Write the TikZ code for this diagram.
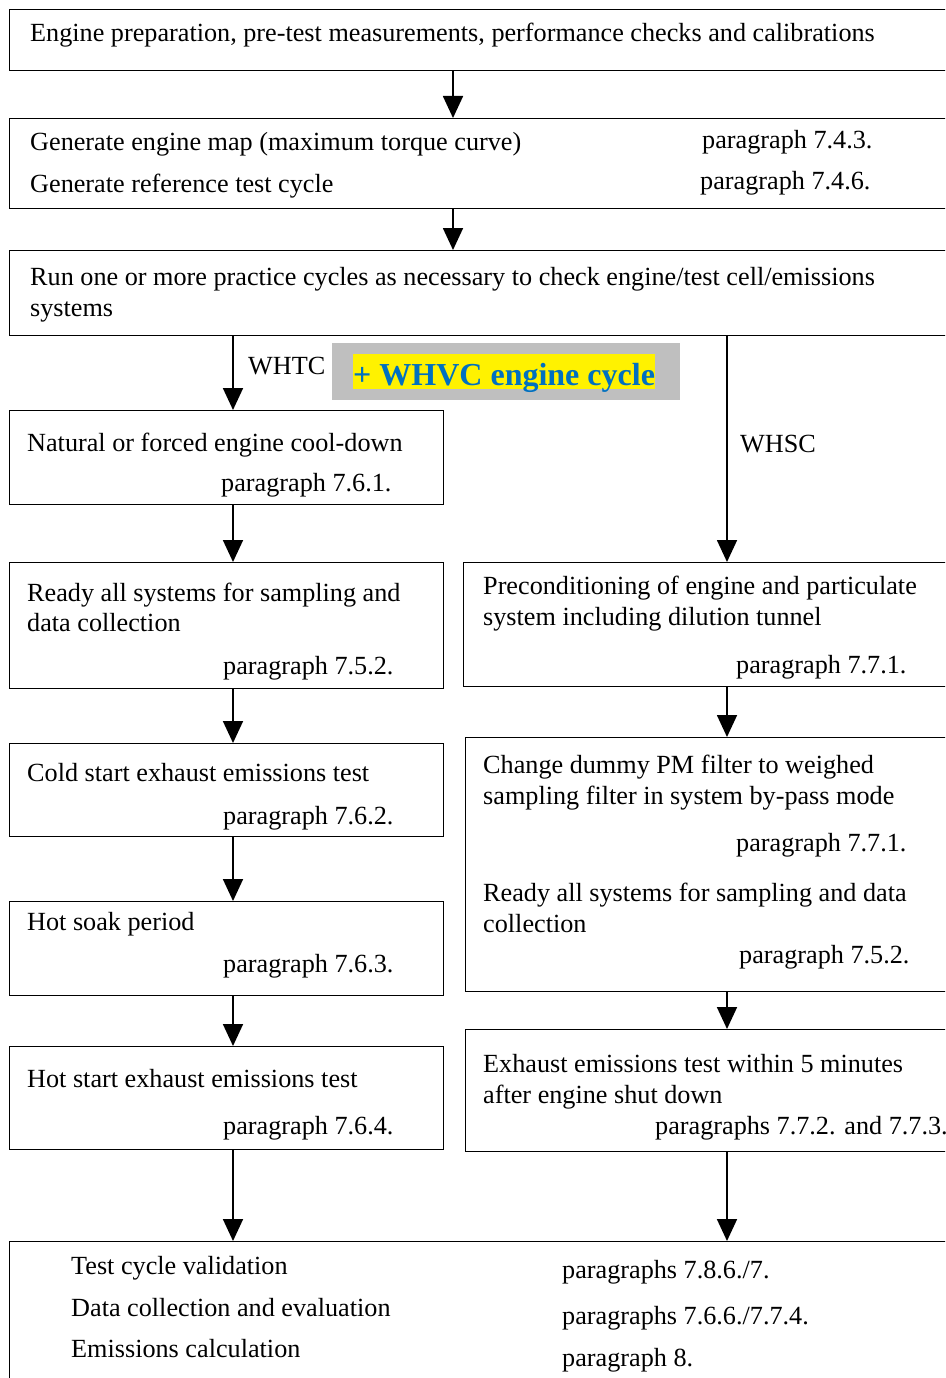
\documentclass[tikz,border=0pt]{standalone}
\usepackage{fontspec}
\setmainfont{Liberation Serif}
\usetikzlibrary{arrows.meta}
\definecolor{hlblue}{HTML}{0070C0}
\definecolor{hlgray}{HTML}{BFBFBF}
\begin{document}
\begin{tikzpicture}[x=1pt,y=-1pt,
  box/.style={draw,line width=1.3pt,rectangle,anchor=north west,inner sep=0pt},
  txt/.style={anchor=base west,inner sep=0pt,yshift=-1pt,font=\fontsize{26.2}{31}\selectfont},
  flow/.style={line width=1.8pt,-{Triangle[width=20pt,length=22pt]}},
  lbl/.style={anchor=base west,inner sep=0pt,font=\fontsize{26.2}{31}\selectfont}]
\useasboundingbox (0,0) rectangle (945,1378);
\clip (0,0) rectangle (945,1378);

% column positions of the connectors
\coordinate (cm) at (453,0);
\coordinate (cl) at (233,0);
\coordinate (cr) at (727,0);

% ---- boxes (the wide ones run past the right edge) ----
\node[box,minimum width=960pt,minimum height=61pt] (b1) at (9,9) {};
\node[box,minimum width=960pt,minimum height=90pt] (b2) at (9,118) {};
\node[box,minimum width=960pt,minimum height=85pt] (b3) at (9,250) {};
\node[box,minimum width=434pt,minimum height=94pt] (l1) at (9,410) {};
\node[box,minimum width=434pt,minimum height=126pt] (l2) at (9,562) {};
\node[box,minimum width=434pt,minimum height=93pt] (l3) at (9,743) {};
\node[box,minimum width=434pt,minimum height=94pt] (l4) at (9,901) {};
\node[box,minimum width=434pt,minimum height=103pt] (l5) at (9,1046) {};
\node[box,minimum width=500pt,minimum height=124pt] (r1) at (463,562) {};
\node[box,minimum width=500pt,minimum height=254pt] (r2) at (465,737) {};
\node[box,minimum width=500pt,minimum height=122pt] (r3) at (465,1029) {};
\node[box,minimum width=960pt,minimum height=200pt] (b4) at (9,1241) {};

% ---- texts ----
\node[txt] (t1) at (30,41) {Engine preparation, pre-test measurements, performance checks and calibrations};
\node[txt] (t2a) at (30,149) {Generate engine map (maximum torque curve)};
\node[txt] (t2b) at (702,147) {paragraph 7.4.3.};
\node[txt] (t2c) at (30,191) {Generate reference test cycle};
\node[txt] (t2d) at (700,188) {paragraph 7.4.6.};
\node[txt] (t3a) at (30,284) {Run one or more practice cycles as necessary to check engine/test cell/emissions};
\node[txt] (t3b) at (30,315) {systems};

\node[txt] (tl1a) at (27,450) {Natural or forced engine cool-down};
\node[txt] (tl1b) at (221,490) {paragraph 7.6.1.};
\node[txt] (tl2a) at (27,600) {Ready all systems for sampling and};
\node[txt] (tl2b) at (27,630) {data collection};
\node[txt] (tl2c) at (223,673) {paragraph 7.5.2.};
\node[txt] (tl3a) at (27,780) {Cold start exhaust emissions test};
\node[txt] (tl3b) at (223,823) {paragraph 7.6.2.};
\node[txt] (tl4a) at (27,929) {Hot soak period};
\node[txt] (tl4b) at (223,971) {paragraph 7.6.3.};
\node[txt] (tl5a) at (27,1086) {Hot start exhaust emissions test};
\node[txt] (tl5b) at (223,1133) {paragraph 7.6.4.};

\node[txt] (tr1a) at (483,593) {Preconditioning of engine and particulate};
\node[txt] (tr1b) at (483,624) {system including dilution tunnel};
\node[txt] (tr1c) at (736,672) {paragraph 7.7.1.};
\node[txt] (tr2a) at (483,772) {Change dummy PM filter to weighed};
\node[txt] (tr2b) at (483,803) {sampling filter in system by-pass mode};
\node[txt] (tr2c) at (736,850) {paragraph 7.7.1.};
\node[txt] (tr2d) at (483,900) {Ready all systems for sampling and data};
\node[txt] (tr2e) at (483,931) {collection};
\node[txt] (tr2f) at (739,962) {paragraph 7.5.2.};
\node[txt] (tr3a) at (483,1071) {Exhaust emissions test within 5 minutes};
\node[txt] (tr3b) at (483,1102) {after engine shut down};
\node[txt] (tr3c) at (655,1133) {paragraphs 7.7.2. and 7.7.3.};

\node[txt] (t4a) at (71,1273) {Test cycle validation};
\node[txt] (t4b) at (71,1315) {Data collection and evaluation};
\node[txt] (t4c) at (71,1356) {Emissions calculation};
\node[txt] (t4d) at (562,1277) {paragraphs 7.8.6./7.};
\node[txt] (t4e) at (562,1323) {paragraphs 7.6.6./7.7.4.};
\node[txt] (t4f) at (562,1365) {paragraph 8.};

% ---- branch labels ----
\node[lbl] (whtc) at (248,374) {WHTC};
\node[lbl] (whsc) at (740,452) {WHSC};
\node[fill=hlgray,anchor=north west,minimum width=348pt,minimum height=57pt,inner sep=0pt] (grey) at (332,343) {};
\node[fill=yellow,anchor=north west,minimum width=302pt,minimum height=35pt,inner sep=0pt] (hl) at (353,354) {};
\node[anchor=base west,inner sep=0pt,text=hlblue,font=\fontsize{32}{36}\selectfont\bfseries] (whvc) at (353,385) {+ WHVC engine cycle};

% ---- connectors ----
\draw[flow] (b1.south -| cm) -- (b2.north -| cm);
\draw[flow] (b2.south -| cm) -- (b3.north -| cm);
\draw[flow] (b3.south -| cl) -- (l1.north -| cl);
\draw[flow] (b3.south -| cr) -- (r1.north -| cr);
\draw[flow] (l1.south -| cl) -- (l2.north -| cl);
\draw[flow] (l2.south -| cl) -- (l3.north -| cl);
\draw[flow] (l3.south -| cl) -- (l4.north -| cl);
\draw[flow] (l4.south -| cl) -- (l5.north -| cl);
\draw[flow] (l5.south -| cl) -- (b4.north -| cl);
\draw[flow] (r1.south -| cr) -- (r2.north -| cr);
\draw[flow] (r2.south -| cr) -- (r3.north -| cr);
\draw[flow] (r3.south -| cr) -- (b4.north -| cr);
\end{tikzpicture}
\end{document}
